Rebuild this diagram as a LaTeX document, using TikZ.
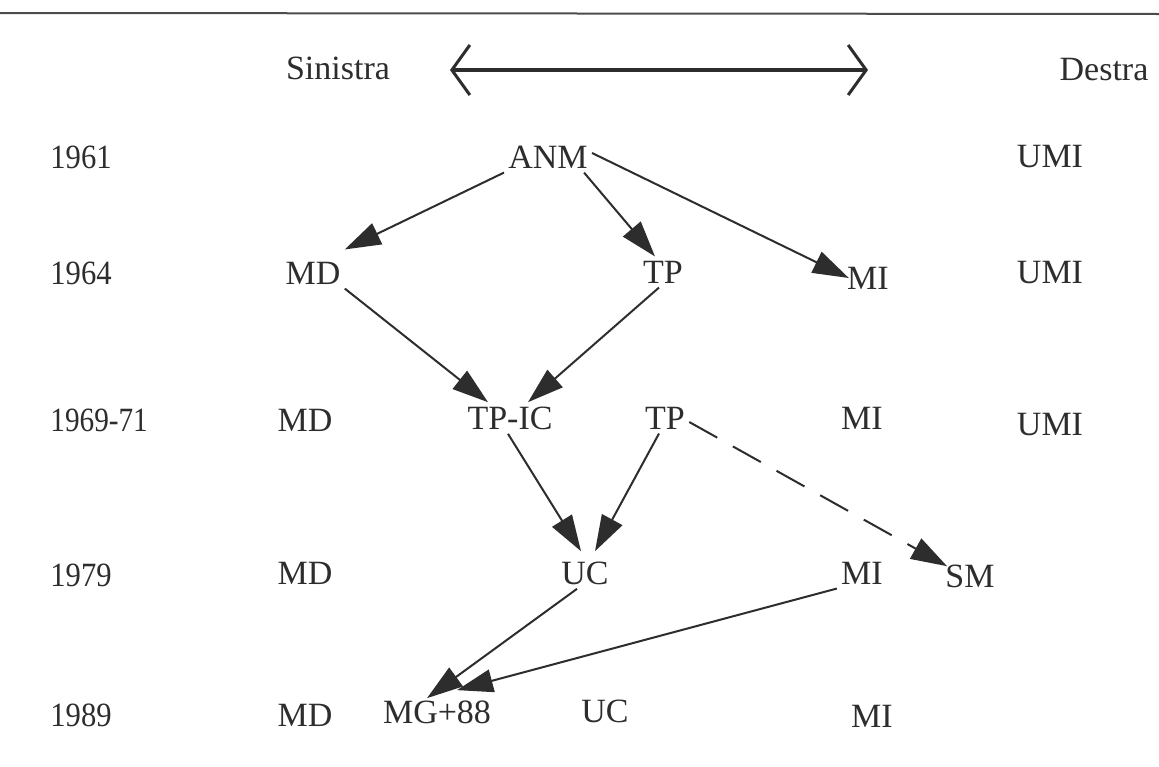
\documentclass[tikz,border=0pt]{standalone}
\usepackage{fontspec}
\setmainfont{Liberation Serif}
\usetikzlibrary{arrows.meta}
\definecolor{ink}{RGB}{45,45,45}
\begin{document}
\begin{tikzpicture}[x=0.5pt,y=-0.5pt,
  lbl/.style={inner sep=2pt, text=ink, font=\fontsize{17}{19}\selectfont},
  yr/.style={lbl, anchor=west},
  flow/.style={draw=ink, line width=1pt, -{Triangle[length=18pt,width=11.5pt]}},
  dflow/.style={flow, dash pattern=on 16pt off 9pt},
  span/.style={draw=ink, line width=1.7pt, {Straight Barb[length=9pt,width=25pt,line width=1.5pt]}-{Straight Barb[length=9pt,width=25pt,line width=1.5pt]}},
  rule/.style={draw=ink!85, line width=1pt}]
\fill[white] (0,0) rectangle (1159,766);
\useasboundingbox (0,0) rectangle (1159,766);
\draw[rule] (0,13) -- (1159,14);
% header
\node[lbl] (sin) at (338,68) {Sinistra};
\node[lbl] (des) at (1104,70) {Destra};
\coordinate (sl) at (450,70);
\coordinate (sr) at (868,70);
\draw[span] (sl) -- (sr);
% years
\node[yr] (y61) at (46,157) {\scalebox{0.9}[1]{1961}};
\node[yr] (y64) at (46,273) {\scalebox{0.9}[1]{1964}};
\node[yr] (y69) at (46,420) {\scalebox{0.86}[1]{1969-71}};
\node[yr] (y79) at (46,575) {\scalebox{0.9}[1]{1979}};
\node[yr] (y89) at (46,715) {\scalebox{0.9}[1]{1989}};
% 1961
\node[lbl] (anm) at (548,157) {ANM};
\node[lbl] (umi1) at (1050,157) {UMI};
% 1964
\node[lbl] (md1) at (313,273) {MD};
\node[lbl] (tp1) at (663,272) {TP};
\node[lbl] (mi1) at (868,278) {MI};
\node[lbl] (umi2) at (1050,273) {UMI};
% 1969-71
\node[lbl] (md2) at (305,420) {MD};
\node[lbl] (tpic) at (510,418) {TP-IC};
\node[lbl] (tp2) at (665,418) {TP};
\node[lbl] (mi2) at (862,418) {MI};
\node[lbl] (umi3) at (1050,425) {UMI};
% 1979
\node[lbl] (md3) at (305,573) {MD};
\node[lbl] (uc1) at (585,573) {UC};
\node[lbl] (mi3) at (862,573) {MI};
\node[lbl] (sm) at (970,576) {SM};
% 1989
\node[lbl] (md4) at (305,715) {MD};
\node[lbl] (mg) at (437,712) {MG+88};
\node[lbl] (uc2) at (605,711) {UC};
\node[lbl] (mi4) at (872,716) {MI};
% connectors
\draw[flow] (anm.south west) -- ([yshift=4pt]md1.north east);
\draw[flow] ([xshift=-4pt]anm.south east) -- ([xshift=-4pt]tp1.north);
\draw[flow] ([yshift=2pt]anm.east) -- ([xshift=3pt]mi1.west);
\draw[flow] (md1.south east) -- ([xshift=-11pt]tpic.north);
\draw[flow] ([xshift=-2pt]tp1.south) -- ([xshift=9pt]tpic.north);
\draw[flow] ([xshift=-1pt]tpic.south) -- ([xshift=-2pt,yshift=3pt]uc1.north);
\draw[flow] ([xshift=-3pt]tp2.south) -- ([xshift=5pt,yshift=3pt]uc1.north);
\draw[dflow] ([yshift=-2pt]tp2.east) -- ([xshift=3pt,yshift=-3pt]sm.north west);
\draw[flow] ([xshift=-4pt]uc1.south) -- ([xshift=-5pt,yshift=-1pt]mg.north);
\draw[flow] (mi3.south west) -- ([xshift=10pt,yshift=3pt]mg.north);
\end{tikzpicture}
\end{document}
